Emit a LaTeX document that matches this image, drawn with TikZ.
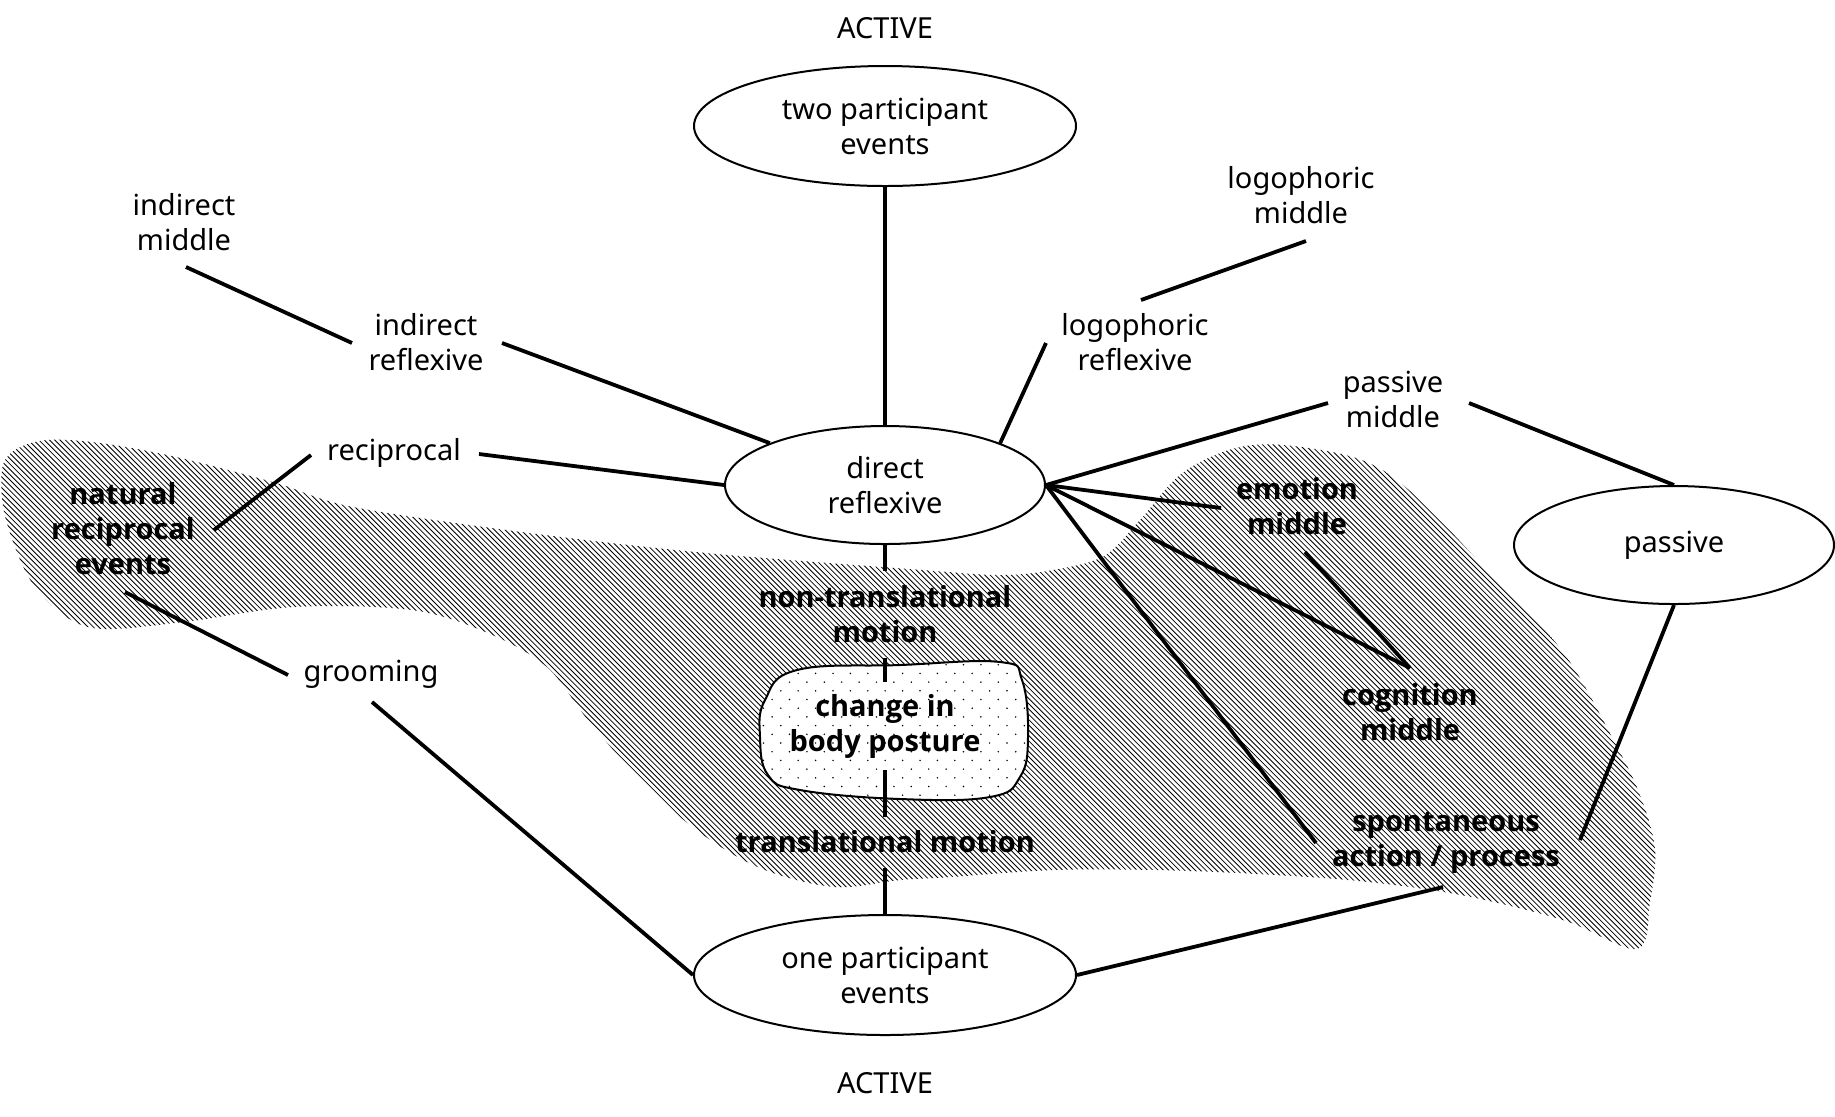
\documentclass[tikz,border=0pt]{standalone}
\usepackage{fontspec}
\setmainfont{Noto Sans}
\IfFontExistsTF{Noto Sans Bold}
  {\newfontfamily\boldlbl{Noto Sans Bold}}
  {\IfFontExistsTF{Open Sans Bold}
     {\newfontfamily\boldlbl{Open Sans Bold}}
     {\newfontfamily\boldlbl{Noto Sans}[FakeBold=3.5,LetterSpace=5]}}
\usetikzlibrary{shapes.geometric}
\begin{document}
\begin{tikzpicture}[x=0.5pt,y=-0.5pt,
  lbl/.style={align=center,inner sep=0pt,font=\fontsize{14.5}{17.5}\selectfont},
  blbl/.style={align=center,inner sep=0pt,font=\fontsize{14.5}{17.5}\selectfont\boldlbl},
  ell/.style={ellipse,draw,line width=1pt,fill=white,inner sep=0pt,align=center,font=\fontsize{14.5}{17.5}\selectfont},
  conn/.style={line width=1.9pt},
  hatchline/.style={line width=0.42pt},
  dotmark/.style={fill=black}]
\useasboundingbox (0,0) rectangle (1835,1116);

% hatched region
\begin{scope}
\clip plot[smooth cycle,tension=0.55] coordinates {
 (47,440) (100,443) (176,457) (276,483) (353,507) (529,533) (706,553) (922,570)
 (1000,575) (1053,570) (1104,556) (1140,520) (1181,474) (1232,449) (1283,445)
 (1359,459) (1410,491) (1487,570) (1563,652) (1614,741) (1640,795) (1655,849)
 (1650,902) (1637,949)
 (1563,920) (1461,895) (1359,881) (1257,874) (1155,870) (1053,870) (951,877)
 (900,880) (835,887) (765,870) (706,837) (647,787) (588,720) (547,667) (488,633)
 (412,610) (294,607) (176,623) (88,627) (35,587) (6,520) (2,470) (15,450)};
\foreach \c in {-600,-594.7,...,1700}
  \draw[hatchline] (\c,400) -- ++(600,600);
\end{scope}

% change in body posture blob
\path[fill=white] plot[smooth cycle,tension=0.7] coordinates {
 (797,670) (900,665) (1000,662) (1022,680) (1028,737) (1020,777) (990,797)
 (900,799) (800,790) (768,775) (760,737) (765,700)};
\begin{scope}
\clip plot[smooth cycle,tension=0.7] coordinates {
 (797,670) (900,665) (1000,662) (1022,680) (1028,737) (1020,777) (990,797)
 (900,799) (800,790) (768,775) (760,737) (765,700)};
\foreach \r in {0,...,17} {
  \pgfmathsetmacro{\yy}{656+8.7*\r}
  \pgfmathsetmacro{\xo}{mod(\r,2)*8.7}
  \foreach \k in {0,...,17}
    \fill[dotmark] ({746+\xo+17.4*\k},\yy) circle (0.42pt);
}
\end{scope}
\draw[line width=1pt] plot[smooth cycle,tension=0.7] coordinates {
 (797,670) (900,665) (1000,662) (1022,680) (1028,737) (1020,777) (990,797)
 (900,799) (800,790) (768,775) (760,737) (765,700)};
\node[blbl] (cbp) at (885,726) {change in\\body posture};

% ellipses
\node[ell,minimum width=191pt,minimum height=60pt] (tp) at (885,126) {two participant\\events};
\node[ell,minimum width=160pt,minimum height=59pt] (dr) at (885,485) {direct\\reflexive};
\node[ell,minimum width=160pt,minimum height=59pt] (pa) at (1674,545) {passive};
\node[ell,minimum width=191pt,minimum height=60pt] (op) at (885,975) {one participant\\events};

% labels
\node[lbl] (act1) at (885,28) {ACTIVE};
\node[lbl] (act2) at (885,1083) {ACTIVE};
\node[lbl] (im) at (184,222) {indirect\\middle};
\node[lbl] (ir) at (426,342) {indirect\\reflexive};
\node[lbl] (lm) at (1301,195) {logophoric\\middle};
\node[lbl] (lr) at (1135,342) {logophoric\\reflexive};
\node[lbl] (pm) at (1393,399) {passive\\middle};
\node[lbl] (rc) at (394,453) {reciprocal};
\node[blbl] (nre) at (123,529) {natural\\reciprocal\\events};
\node[lbl] (gr) at (371,674) {grooming};
\node[blbl] (ntm) at (885,614) {non-translational\\motion};
\node[blbl] (tm) at (885,842) {translational motion};
\node[blbl] (em) at (1297,506) {emotion\\middle};
\node[blbl] (cm) at (1410,712) {cognition\\middle};
\node[blbl] (sap) at (1446,843) {spontaneous\\action / process};

% connector end points
\coordinate (im-s) at (186,267);
\coordinate (ir-w) at (352,343);
\coordinate (ir-e) at (502,343);
\coordinate (lm-s) at (1306,241);
\coordinate (lr-n) at (1141,300);
\coordinate (lr-s) at (1046,343);
\coordinate (rc-e) at (479,454);
\coordinate (rc-w) at (311,455);
\coordinate (nre-e) at (214,530);
\coordinate (nre-s) at (125,592);
\coordinate (gr-w) at (288,675);
\coordinate (gr-s) at (372,702);
\coordinate (pm-w) at (1328,403);
\coordinate (pm-e) at (1469,403);
\coordinate (em-w) at (1221,508);
\coordinate (em-s) at (1305,552);
\coordinate (cm-n) at (1410,668);
\coordinate (sap-nw) at (1316,843);
\coordinate (sap-ne) at (1580,840);
\coordinate (sap-s) at (1443,887);
\coordinate (ntm-n) at (885,571);
\coordinate (ntm-s) at (885,658);
\coordinate (cbp-n) at (885,682);
\coordinate (cbp-s) at (885,770);
\coordinate (tm-n) at (885,817);
\coordinate (tm-s) at (885,868);

% connectors
\draw[conn] (tp.south) -- (dr.north);
\draw[conn] (im-s) -- (ir-w);
\draw[conn] (ir-e) -- (dr.160);
\draw[conn] (lm-s) -- (lr-n);
\draw[conn] (lr-s) -- (dr.20);
\draw[conn] (rc-e) -- (dr.west);
\draw[conn] (rc-w) -- (nre-e);
\draw[conn] (nre-s) -- (gr-w);
\draw[conn] (gr-s) -- (op.west);
\draw[conn] (dr.east) -- (pm-w);
\draw[conn] (pm-e) -- (pa.north);
\draw[conn] (dr.east) -- (em-w);
\draw[conn] (dr.east) -- (cm-n);
\draw[conn] (em-s) -- (cm-n);
\draw[conn] (dr.east) -- (sap-nw);
\draw[conn] (pa.south) -- (sap-ne);
\draw[conn] (sap-s) -- (op.east);
\draw[conn] (dr.south) -- (ntm-n);
\draw[conn] (ntm-s) -- (cbp-n);
\draw[conn] (cbp-s) -- (tm-n);
\draw[conn] (tm-s) -- (op.north);
\end{tikzpicture}
\end{document}
